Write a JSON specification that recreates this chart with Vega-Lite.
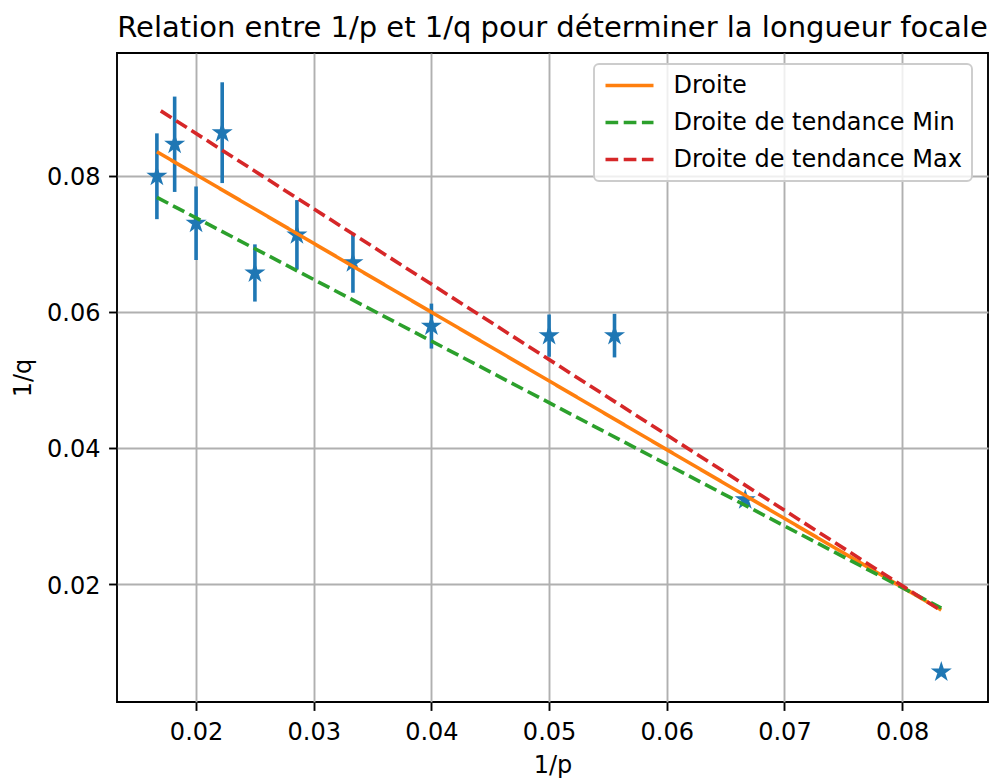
{
  "$schema": "https://vega.github.io/schema/vega-lite/v6.json",
  "width": 871,
  "height": 649,
  "autosize": {"type": "none"},
  "padding": {"left": 117, "top": 53, "right": 6, "bottom": 76},
  "background": "white",
  "title": {
    "text": "Relation entre 1/p et 1/q pour déterminer la longueur focale",
    "font": "DejaVu Sans",
    "fontSize": 29,
    "fontWeight": "normal",
    "color": "#000000",
    "anchor": "middle",
    "baseline": "alphabetic",
    "offset": 16,
    "dy": 29
  },
  "datasets": {
    "points": [
      {"x": 0.01667, "y": 0.0799, "err": 0.0063},
      {"x": 0.01818, "y": 0.0846, "err": 0.0070},
      {"x": 0.02000, "y": 0.0730, "err": 0.0054},
      {"x": 0.02222, "y": 0.0863, "err": 0.0074},
      {"x": 0.02500, "y": 0.0657, "err": 0.0042},
      {"x": 0.02857, "y": 0.0713, "err": 0.0051},
      {"x": 0.03333, "y": 0.0672, "err": 0.0044},
      {"x": 0.04000, "y": 0.0579, "err": 0.0033},
      {"x": 0.05000, "y": 0.0565, "err": 0.0031},
      {"x": 0.05556, "y": 0.0565, "err": 0.0032},
      {"x": 0.06667, "y": 0.0324, "err": 0.0006},
      {"x": 0.08333, "y": 0.0071, "err": 0.0002}
    ],
    "lines": [
      {"serie": "Droite", "x": 0.01667, "y": 0.0835},
      {"serie": "Droite", "x": 0.08333, "y": 0.0162},
      {"serie": "Droite de tendance Min", "x": 0.01667, "y": 0.0768},
      {"serie": "Droite de tendance Min", "x": 0.08333, "y": 0.0165},
      {"serie": "Droite de tendance Max", "x": 0.0170, "y": 0.0895},
      {"serie": "Droite de tendance Max", "x": 0.08333, "y": 0.0161}
    ]
  },
  "encoding": {
    "x": {
      "field": "x",
      "type": "quantitative",
      "scale": {"domain": [0.01328, 0.0873], "nice": false, "zero": false},
      "axis": {"title": "1/p", "values": [0.02, 0.03, 0.04, 0.05, 0.06, 0.07, 0.08], "format": ".2f"}
    },
    "y": {
      "field": "y",
      "type": "quantitative",
      "scale": {"domain": [0.0027, 0.098], "nice": false, "zero": false},
      "axis": {"title": "1/q", "values": [0.02, 0.04, 0.06, 0.08], "format": ".2f"}
    }
  },
  "layer": [
    {
      "data": {"name": "points"},
      "mark": {"type": "errorbar", "ticks": false, "color": "#1f77b4", "thickness": 3.6},
      "encoding": {
        "yError": {"field": "err"}
      }
    },
    {
      "data": {"name": "points"},
      "mark": {
        "type": "point",
        "shape": "M0,-1L0.2245,-0.309L0.951,-0.309L0.3633,0.118L0.588,0.809L0,0.382L-0.588,0.809L-0.3633,0.118L-0.951,-0.309L-0.2245,-0.309Z",
        "filled": true,
        "fill": "#1f77b4",
        "stroke": "#1f77b4",
        "strokeWidth": 2.4,
        "strokeJoin": "miter",
        "size": 207,
        "opacity": 1
      }
    },
    {
      "data": {"name": "lines"},
      "mark": {"type": "line", "strokeWidth": 3.6, "strokeCap": "butt"},
      "encoding": {
        "color": {
          "field": "serie",
          "type": "nominal",
          "scale": {
            "domain": ["Droite", "Droite de tendance Min", "Droite de tendance Max"],
            "range": ["#ff7f0e", "#2ca02c", "#d62728"]
          },
          "legend": {"title": null, "orient": "none", "legendX": 477, "legendY": 11}
        },
        "strokeDash": {
          "field": "serie",
          "type": "nominal",
          "scale": {
            "domain": ["Droite", "Droite de tendance Min", "Droite de tendance Max"],
            "range": [[1, 0], [12.7, 5.5], [12.7, 5.5]]
          },
          "legend": {"title": null, "orient": "none", "legendX": 477, "legendY": 11}
        }
      }
    }
  ],
  "config": {
    "font": "DejaVu Sans",
    "view": {"stroke": "#000000", "strokeWidth": 1.9},
    "axis": {
      "domain": false,
      "grid": true,
      "gridColor": "#b0b0b0",
      "gridWidth": 1.9,
      "gridOpacity": 1,
      "tickColor": "#000000",
      "tickWidth": 1.9,
      "tickSize": 8.4,
      "labelFont": "DejaVu Sans",
      "labelFontSize": 24,
      "labelColor": "#000000",
      "labelFlush": false,
      "labelOverlap": false,
      "titleFont": "DejaVu Sans",
      "titleFontSize": 24,
      "titleFontWeight": "normal",
      "titleColor": "#000000"
    },
    "axisX": {"labelPadding": 9.8, "titlePadding": 9},
    "axisY": {"labelPadding": 8.6, "titlePadding": 11, "labelOffset": 2},
    "legend": {
      "symbolType": "stroke",
      "symbolSize": 2304,
      "symbolStrokeWidth": 3.6,
      "symbolOffset": 0,
      "labelFont": "DejaVu Sans",
      "labelFontSize": 24,
      "labelColor": "#000000",
      "labelOffset": 18,
      "labelLimit": 0,
      "clipHeight": 24,
      "rowPadding": 13,
      "padding": 9.5,
      "strokeColor": "#cccccc",
      "strokeWidth": 1.9,
      "fillColor": "rgba(255,255,255,0.8)",
      "cornerRadius": 5
    }
  }
}
